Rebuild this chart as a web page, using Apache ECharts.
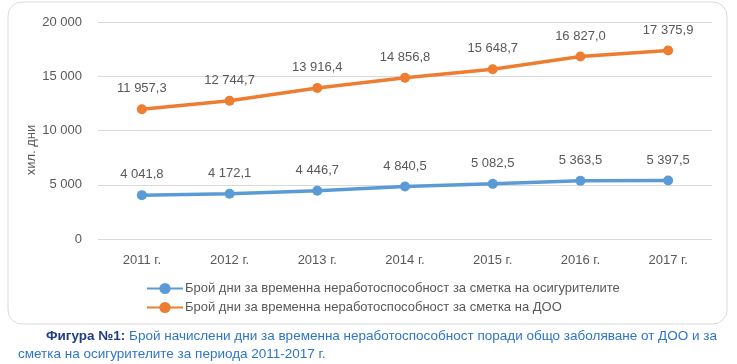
<!DOCTYPE html>
<html><head><meta charset="utf-8">
<script src="https://cdn.jsdelivr.net/npm/echarts@6/dist/echarts.min.js"></script>
<style>html,body{margin:0;padding:0;background:#fff}#c{width:737px;height:364px}</style>
</head><body><div id="c"></div>
<script>
const categories = ['2011 г.','2012 г.','2013 г.','2014 г.','2015 г.','2016 г.','2017 г.'];
const insurers = [4041.8, 4172.1, 4446.7, 4840.5, 5082.5, 5363.5, 5397.5];
const doo = [11957.3, 12744.7, 13916.4, 14856.8, 15648.7, 16827.0, 17375.9];
const seriesNames = ['Брой дни за временна неработоспособност за сметка на осигурителите','Брой дни за временна неработоспособност за сметка на ДОО'];
const yTitle = 'хил. дни';
const captionBold = 'Фигура №1:';
const captionLine1 = ' Брой начислени дни за временна неработоспособност поради общо заболяване от ДОО и за';
const captionLine2 = 'сметка на осигурителите за периода 2011-2017 г.';

const FONT = '"Liberation Sans", Arial, sans-serif';
const fmt = (v) => {
  const s = v.toFixed(1).replace('.', ',');
  const [i, d] = s.split(',');
  return i.replace(/\B(?=(\d{3})+(?!\d))/g, ' ') + ',' + d;
};
const fmtInt = (v) => String(v).replace(/\B(?=(\d{3})+(?!\d))/g, ' ');

const chart = echarts.init(document.getElementById('c'), null, {renderer: 'canvas'});
chart.setOption({
  animation: false,
  textStyle: {fontFamily: FONT},
  grid: {left: 98, right: 25, top: 22, bottom: 125},
  graphic: [
    {type: 'rect', shape: {x: 8, y: 2, width: 719, height: 322, r: 14}, style: {fill: 'none', stroke: '#d9d9d9', lineWidth: 1}, z: -10},
    {type: 'text', x: 31, y: 150, rotation: Math.PI / 2, style: {text: yTitle, fontFamily: FONT, fontSize: 13, fill: '#595959', align: 'center', verticalAlign: 'middle'}},
    {type: 'text', left: 46, top: 329, style: {text: '{b|' + captionBold + '}{n|' + captionLine1 + '}', rich: {
      b: {fontFamily: FONT, fontSize: 13.5, fontWeight: 'bold', fill: '#1f3c88'},
      n: {fontFamily: FONT, fontSize: 13.5, fill: '#2e75c8'}}}},
    {type: 'text', left: 18, top: 347, style: {text: captionLine2, fontFamily: FONT, fontSize: 13.5, fill: '#2e75c8'}}
  ],
  legend: {
    orient: 'vertical', left: 146, top: 282, itemGap: 6, itemWidth: 36, itemHeight: 14, padding: 0,
    textStyle: {fontFamily: FONT, fontSize: 13, color: '#595959', padding: [0,0,0,-3]},
    data: seriesNames
  },
  xAxis: {
    type: 'category', data: categories, boundaryGap: true,
    axisLine: {show: false}, axisTick: {show: false},
    axisLabel: {fontFamily: FONT, fontSize: 13, color: '#595959', margin: 15}
  },
  yAxis: {
    type: 'value', min: 0, max: 20000, interval: 5000,
    axisLabel: {fontFamily: FONT, fontSize: 13, color: '#595959', margin: 16, formatter: fmtInt},
    splitLine: {lineStyle: {color: '#d9d9d9', width: 1}}
  },
  series: [
    {name: seriesNames[0], type: 'line', data: insurers, symbol: 'circle', symbolSize: 10,
     itemStyle: {color: '#5b9bd5'}, lineStyle: {width: 3.5, color: '#5b9bd5'},
     label: {show: true, position: 'top', distance: 9, fontFamily: FONT, fontSize: 13, color: '#595959', formatter: p => fmt(p.value)}},
    {name: seriesNames[1], type: 'line', data: doo, symbol: 'circle', symbolSize: 10,
     itemStyle: {color: '#ed7d31'}, lineStyle: {width: 3.5, color: '#ed7d31'},
     label: {show: true, position: 'top', distance: 9, fontFamily: FONT, fontSize: 13, color: '#595959', formatter: p => fmt(p.value)}}
  ]
});
</script></body></html>
